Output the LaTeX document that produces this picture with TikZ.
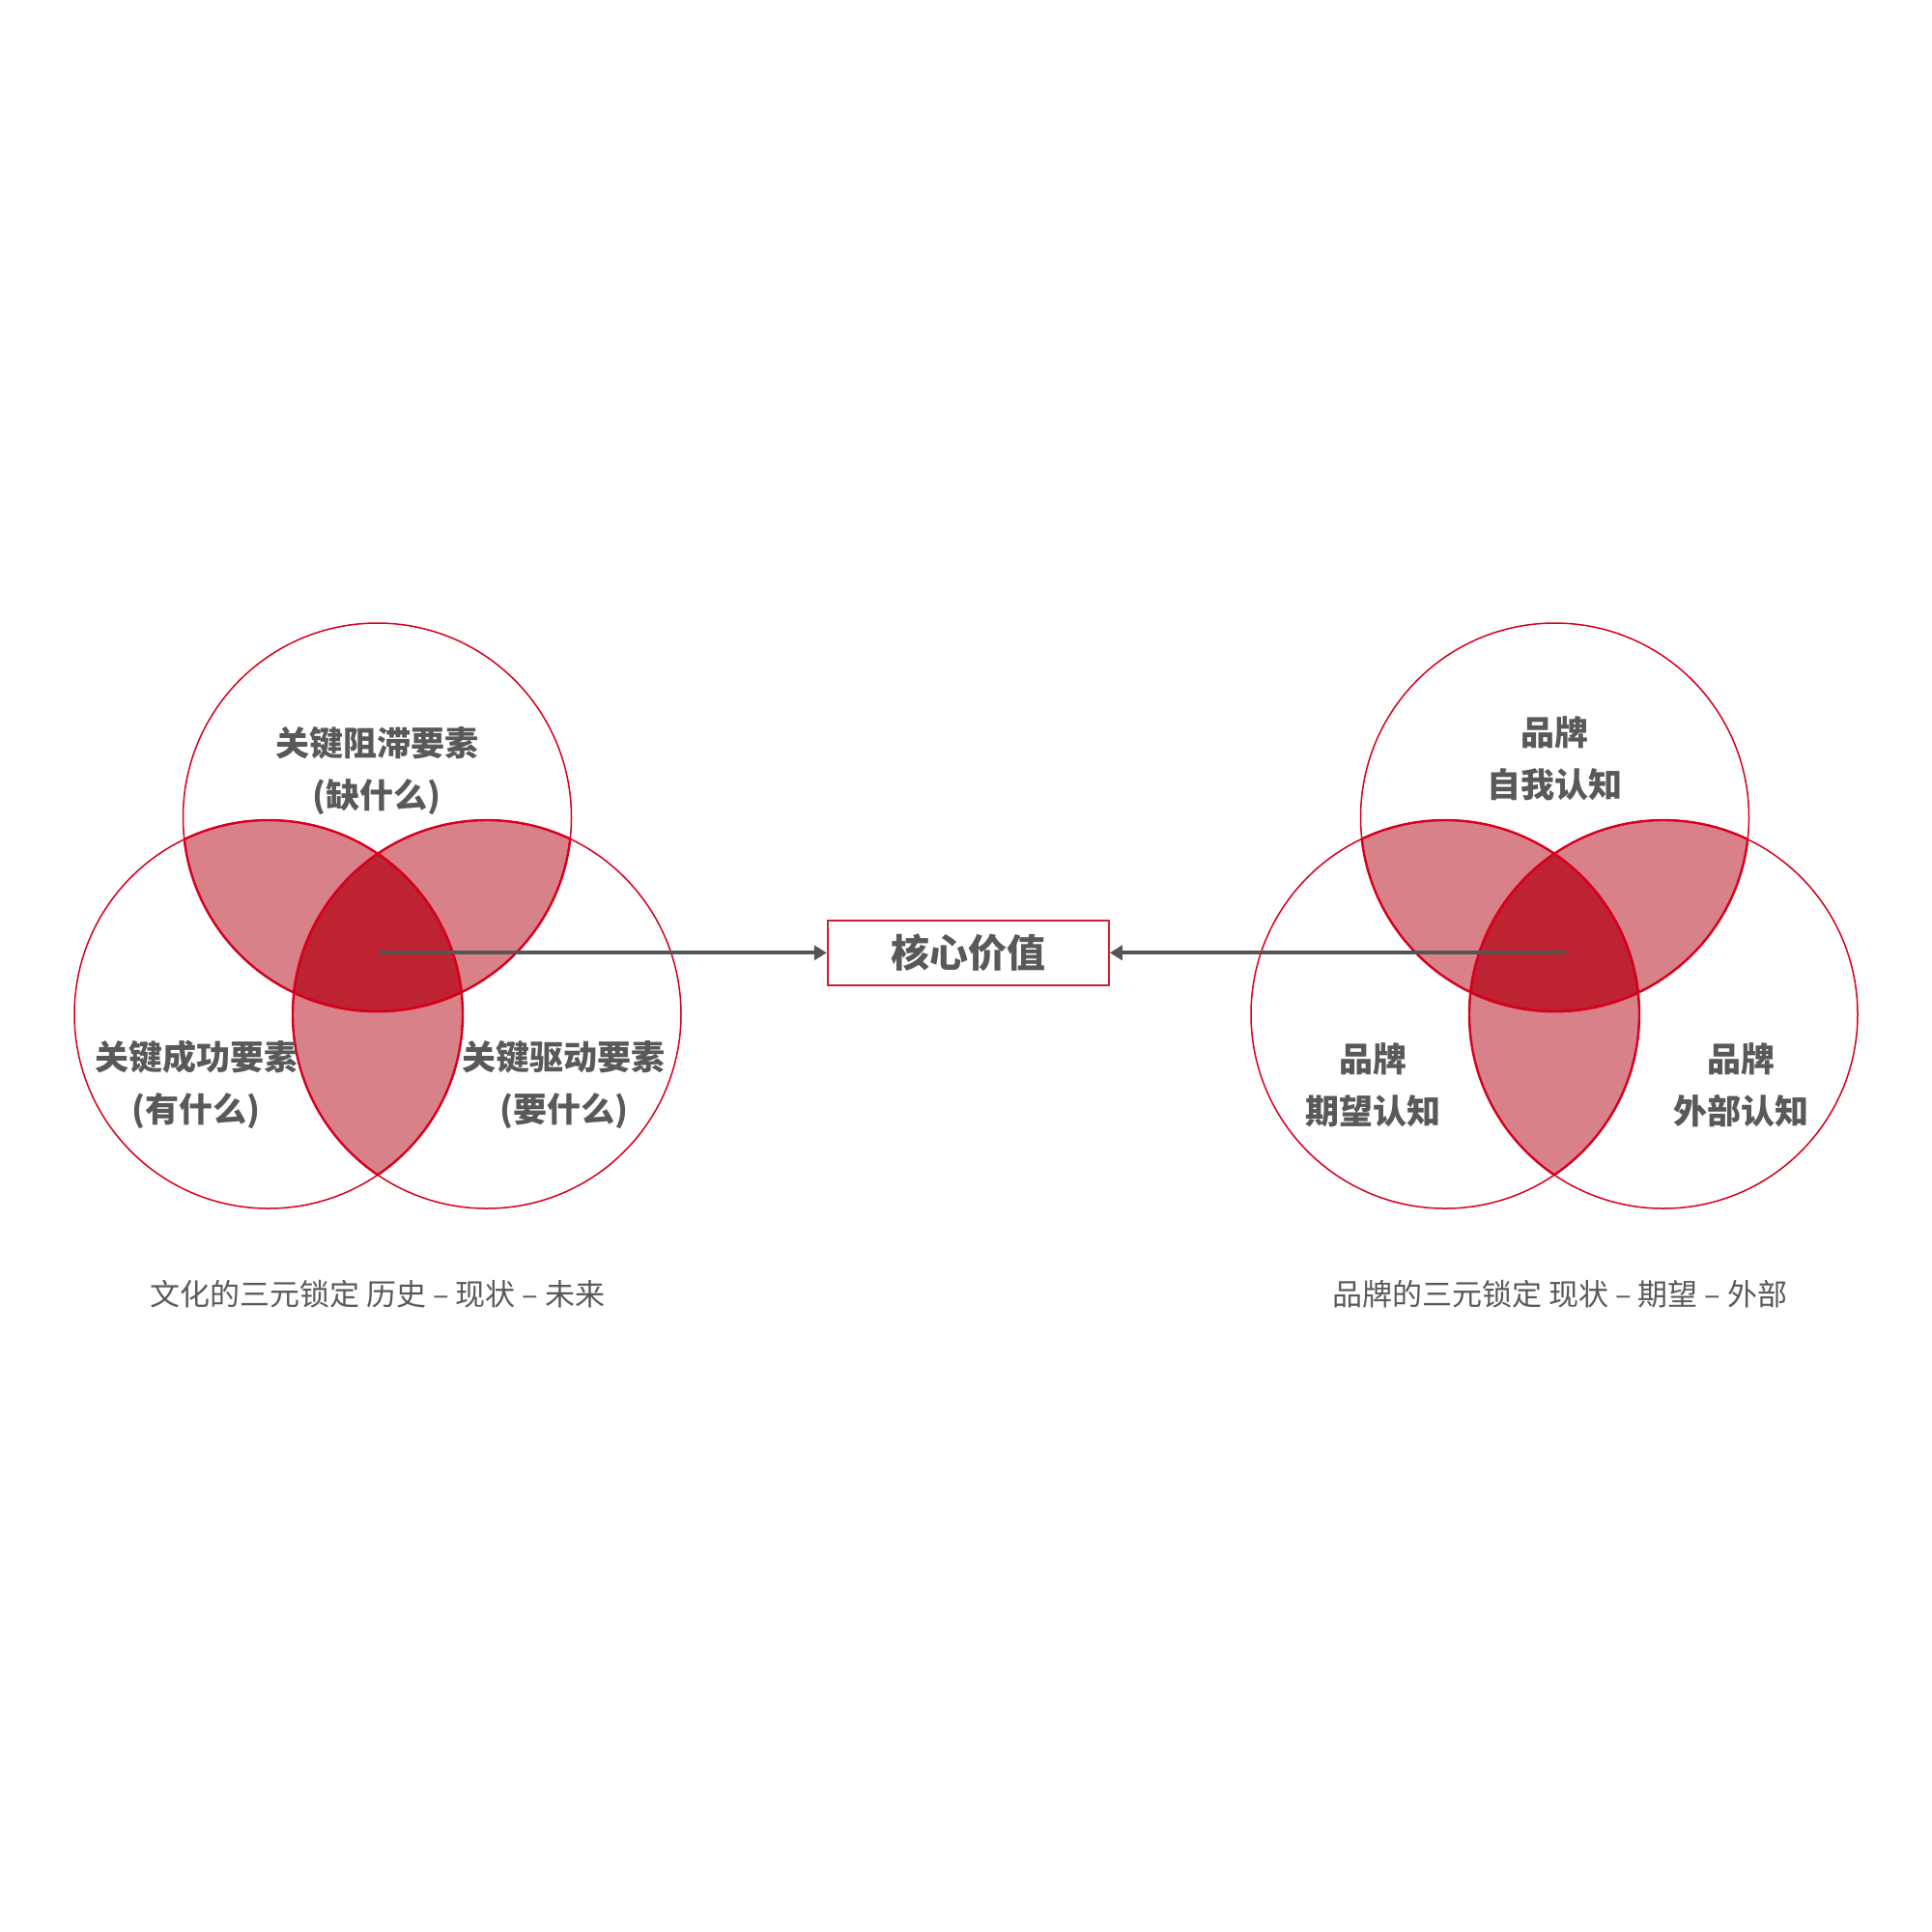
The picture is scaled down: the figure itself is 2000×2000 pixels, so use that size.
\documentclass[tikz,border=0pt]{standalone}
\usepackage{fontspec}
\setmainfont{Noto Sans CJK SC}
\usetikzlibrary{arrows.meta}
\definecolor{ringred}{HTML}{D7001E}
\definecolor{lightfill}{HTML}{D98189}
\definecolor{darkfill}{HTML}{BD2331}
\definecolor{txtgray}{HTML}{595959}
\definecolor{arrgray}{HTML}{555555}
\definecolor{boxred}{HTML}{D0202E}
\tikzset{
  ring/.style={draw=ringred, line width=1.5pt},
  lensedge/.style={draw=ringred, line width=2.4pt},
  lbl/.style={text=txtgray, font=\fontsize{35}{54}\selectfont\bfseries, align=center, inner sep=0pt},
  captxt/.style={text=txtgray, font=\fontsize{31}{36}\selectfont, inner sep=0pt},
  arr/.style={draw=arrgray, line width=4pt, -{Triangle[length=13pt,width=15pt]}},
  corebox/.style={draw=boxred, line width=2pt, fill=white, minimum width=291pt, minimum height=67pt, inner sep=0pt,
     text=txtgray, font=\fontsize{40}{48}\selectfont\bfseries}
}
\newcommand{\vennset}[3]{%
  \begin{scope}\clip (#1) circle[radius=201pt]; \fill[lightfill] (#2) circle[radius=201pt]; \end{scope}
  \begin{scope}\clip (#1) circle[radius=201pt]; \fill[lightfill] (#3) circle[radius=201pt]; \end{scope}
  \begin{scope}\clip (#2) circle[radius=201pt]; \fill[lightfill] (#3) circle[radius=201pt]; \end{scope}
  \begin{scope}\clip (#1) circle[radius=201pt]; \clip (#2) circle[radius=201pt]; \fill[darkfill] (#3) circle[radius=201pt]; \end{scope}
  \begin{scope}\clip (#1) circle[radius=201pt]; \draw[lensedge] (#2) circle[radius=201pt]; \draw[lensedge] (#3) circle[radius=201pt]; \end{scope}
  \begin{scope}\clip (#2) circle[radius=201pt]; \draw[lensedge] (#1) circle[radius=201pt]; \draw[lensedge] (#3) circle[radius=201pt]; \end{scope}
  \begin{scope}\clip (#3) circle[radius=201pt]; \draw[lensedge] (#1) circle[radius=201pt]; \draw[lensedge] (#2) circle[radius=201pt]; \end{scope}
  \draw[ring] (#1) circle[radius=201pt];
  \draw[ring] (#2) circle[radius=201pt];
  \draw[ring] (#3) circle[radius=201pt];
}
\begin{document}
\begin{tikzpicture}[x=1pt,y=-1pt]
\useasboundingbox[fill=white] (0,0) rectangle (2000,2000);
\coordinate (LT) at (390.5,846);
\coordinate (LL) at (278,1050);
\coordinate (LR) at (504,1050);
\coordinate (RT) at (1609.5,846);
\coordinate (RL) at (1496,1050);
\coordinate (RR) at (1722,1050);
\vennset{LT}{LL}{LR}
\vennset{RT}{RL}{RR}
\node[corebox] (core) at (1002.3,986.3) {核心价值};
\coordinate (lstart) at (391.5,986.3);
\coordinate (rstart) at (1620.5,986.3);
\draw[arr] (lstart) -- (core.west);
\draw[arr] (rstart) -- (core.east);
\node[lbl] (lt) at (390,798) {关键阻滞要素\\(缺什么)};
\node[lbl] (ll) at (203,1123) {关键成功要素\\(有什么)};
\node[lbl] (lr) at (583.5,1123) {关键驱动要素\\(要什么)};
\node[lbl] (rt) at (1609.5,785) {品牌\\自我认知};
\node[lbl] (rl) at (1421,1123) {品牌\\期望认知};
\node[lbl] (rr) at (1802,1123) {品牌\\外部认知};
\node[captxt] (lcap) at (391,1340) {文化的三元锁定 历史 – 现状 – 未来};
\node[captxt] (rcap) at (1614.6,1340) {品牌的三元锁定 现状 – 期望 – 外部};
\end{tikzpicture}
\end{document}
